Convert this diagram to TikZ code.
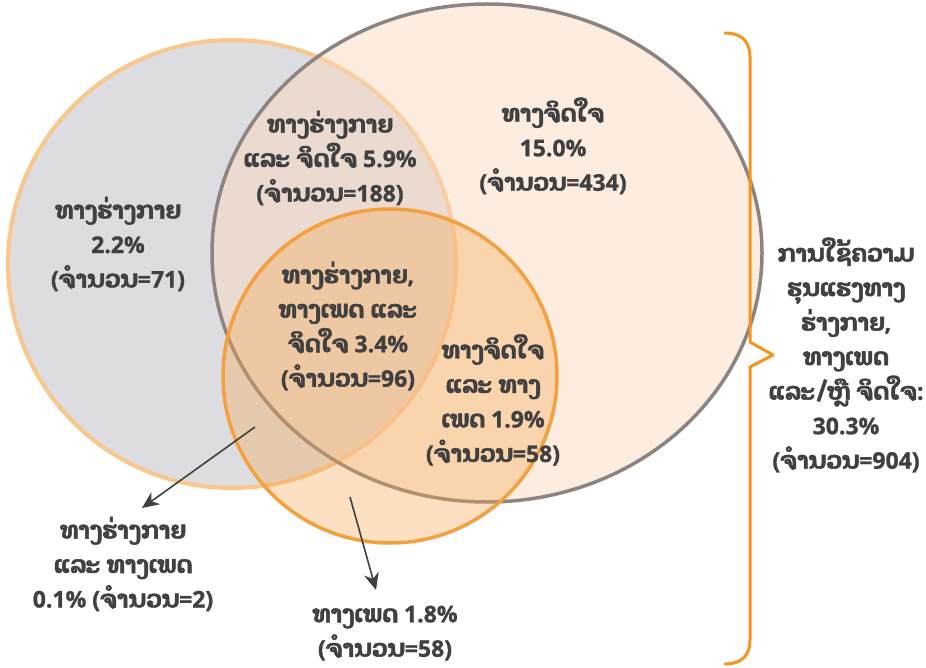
\documentclass[tikz,border=0pt]{standalone}
\usepackage{fontspec}
\setmainfont{Open Sans}[BoldFeatures={FakeBold=1}]
\newfontfamily\laofont[Script=Lao,FakeBold=2,Scale=1.05]{Dhyana}
\newcommand{\lo}[1]{{\laofont #1}}
\usetikzlibrary{arrows.meta}
\definecolor{txt}{RGB}{64,64,64}
\definecolor{leftfill}{RGB}{221,221,225}
\definecolor{leftline}{RGB}{249,198,140}
\definecolor{bigfill}{RGB}{250,216,188}
\definecolor{bigline}{RGB}{140,132,128}
\definecolor{smallfill}{RGB}{247,168,80}
\definecolor{smallline}{RGB}{245,160,62}
\definecolor{bracecol}{RGB}{247,148,29}
\begin{document}
\begin{tikzpicture}[x=1pt,y=-1pt,
  lbl/.style={align=center,text=txt,font=\bfseries\fontsize{23}{34.5}\selectfont,inner sep=0pt},
  pointer/.style={draw=txt,line width=1.6pt,-{Stealth[length=17pt,width=15pt]}},
  bracestyle/.style={draw=bracecol,line width=3pt,line join=round,line cap=round}]
\useasboundingbox (0,0) rectangle (926,668);
\fill[white] (0,0) rectangle (926,668);
% circles
\path[fill=leftfill,draw=leftline,line width=4pt] (232,264) circle[radius=224pt];
\path[fill=bigfill,fill opacity=0.45,draw=bigline,line width=3.5pt] (487,253) ellipse[x radius=275pt,y radius=249pt];
\path[fill=smallfill,fill opacity=0.35,draw=smallline,line width=3.5pt] (390,376) circle[radius=167pt];
% brace
\draw[bracestyle] (725,33) .. controls (742,33) and (750,42) .. (750,57) -- (750,342) -- (773,355) -- (750,367) -- (750,640) .. controls (750,655) and (742,664) .. (725,664);
% labels
\node[lbl] (phys) at (118,244) {\lo{ທາງຮ່າງກາຍ}\\2.2\%\\(\lo{ຈຳນວນ}=71)};
\node[lbl] (physpsy) at (330,158) {\lo{ທາງຮ່າງກາຍ}\\\lo{ແລະ ຈິດໃຈ} 5.9\%\\(\lo{ຈຳນວນ}=188)};
\node[lbl] (psy) at (553,146) {\lo{ທາງຈິດໃຈ}\\15.0\%\\(\lo{ຈຳນວນ}=434)};
\node[lbl] (all) at (348,326) {\lo{ທາງຮ່າງກາຍ},\\\lo{ທາງເພດ ແລະ}\\\lo{ຈິດໃຈ} 3.4\%\\(\lo{ຈຳນວນ}=96)};
\node[lbl] (psysex) at (493,400) {\lo{ທາງຈິດໃຈ}\\\lo{ແລະ ທາງ}\\\lo{ເພດ} 1.9\%\\(\lo{ຈຳນວນ}=58)};
\node[lbl] (physsex) at (123,564) {\lo{ທາງຮ່າງກາຍ}\\\lo{ແລະ ທາງເພດ}\\0.1\% (\lo{ຈຳນວນ}=2)};
\node[lbl] (sex) at (385,633) {\lo{ທາງເພດ} 1.8\%\\(\lo{ຈຳນວນ}=58)};
\node[lbl] (total) at (846,355) {\lo{ການໃຊ້ຄວາມ}\\\lo{ຮຸນແຮງທາງ}\\\lo{ຮ່າງກາຍ},\\\lo{ທາງເພດ}\\\lo{ແລະ/ຫຼື ຈິດໃຈ}:\\30.3\%\\(\lo{ຈຳນວນ}=904)};
% pointers
\coordinate (p1s) at (255,427);
\coordinate (p1e) at (142,508);
\coordinate (p2s) at (350,497);
\coordinate (p2e) at (376,590);
\draw[pointer] (p1s) -- (p1e);
\draw[pointer] (p2s) -- (p2e);
\end{tikzpicture}
\end{document}
